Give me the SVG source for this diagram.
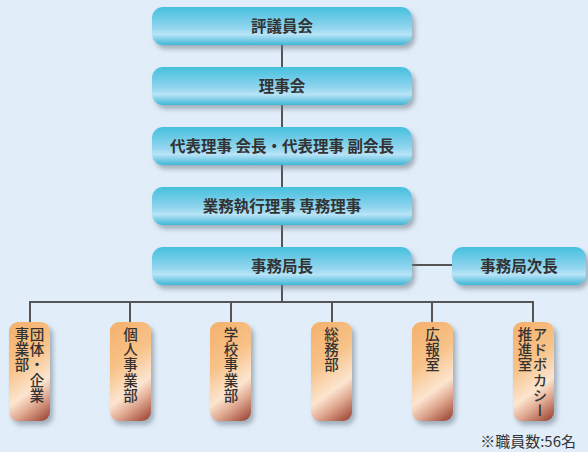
<svg xmlns="http://www.w3.org/2000/svg" width="588" height="452" viewBox="0 0 588 452">
<defs>
<linearGradient id="gBlue" x1="0" y1="0" x2="0" y2="1">
<stop offset="0" stop-color="#45C0DE"/>
<stop offset="0.55" stop-color="#92D5EF"/>
<stop offset="0.72" stop-color="#B8E4F7"/>
<stop offset="0.82" stop-color="#8FD3EC"/>
<stop offset="1" stop-color="#3DB8D6"/>
</linearGradient>
<linearGradient id="gOrange" x1="0" y1="0" x2="0.35" y2="1.15">
<stop offset="0" stop-color="#F5B06C"/>
<stop offset="0.4" stop-color="#F7C288"/>
<stop offset="0.68" stop-color="#FCE5D0"/>
<stop offset="0.82" stop-color="#E0A890"/>
<stop offset="1" stop-color="#A24E3C"/>
</linearGradient>
<filter id="sh" x="-20%" y="-20%" width="150%" height="150%">
<feDropShadow dx="3" dy="4" stdDeviation="2.5" flood-color="#6A7A88" flood-opacity="0.55"/>
</filter>
</defs>
<style>
.b{fill:url(#gBlue);filter:url(#sh)}
.o{fill:url(#gOrange);filter:url(#sh)}
.t{font-family:"Noto Sans CJK JP","Noto Sans",sans-serif;font-size:15.5px;font-weight:bold;fill:#333;text-anchor:middle}
.v{font-family:"Noto Sans CJK JP","Noto Sans",sans-serif;font-size:14.5px;font-weight:500;fill:#333;writing-mode:vertical-rl;letter-spacing:0.8px}
.ln{stroke:#555;stroke-width:2;fill:none}
</style>
<rect width="588" height="452" fill="#E1EEF9"/>
<g id="connectors">
<line class="ln" x1="282" y1="40" x2="282" y2="302"/>
<line class="ln" x1="400" y1="265" x2="460" y2="265"/>
<polyline class="ln" points="30,322 30,302 533,302 533,322"/>
<line class="ln" x1="130" y1="302" x2="130" y2="322"/>
<line class="ln" x1="231" y1="302" x2="231" y2="322"/>
<line class="ln" x1="332" y1="302" x2="332" y2="322"/>
<line class="ln" x1="432" y1="302" x2="432" y2="322"/>
</g>
<g id="n1"><rect class="b" x="152" y="7" width="260" height="38" rx="11"/><text class="t" x="282" y="31.5">評議員会</text></g>
<g id="n2"><rect class="b" x="152" y="67" width="260" height="38" rx="11"/><text class="t" x="282" y="91.5">理事会</text></g>
<g id="n3"><rect class="b" x="152" y="127" width="260" height="38" rx="11"/><text class="t" x="282" y="151.5">代表理事 会長・代表理事 副会長</text></g>
<g id="n4"><rect class="b" x="152" y="187" width="260" height="38" rx="11"/><text class="t" x="282" y="211.5">業務執行理事 専務理事</text></g>
<g id="n5"><rect class="b" x="152" y="247" width="260" height="38" rx="11"/><text class="t" x="282" y="271.5">事務局長</text></g>
<g id="n6"><rect class="b" x="452" y="247" width="134" height="38" rx="11"/><text class="t" x="519" y="271.5">事務局次長</text></g>
<g id="d1"><rect class="o" x="9" y="322" width="41" height="99" rx="9"/><text class="v" x="37" y="327">団体・企業</text><text class="v" x="22" y="327">事業部</text></g>
<g id="d2"><rect class="o" x="110" y="322" width="41" height="99" rx="9"/><text class="v" x="130.5" y="327">個人事業部</text></g>
<g id="d3"><rect class="o" x="210" y="322" width="41" height="99" rx="9"/><text class="v" x="231" y="327">学校事業部</text></g>
<g id="d4"><rect class="o" x="311" y="322" width="41" height="99" rx="9"/><text class="v" x="331.5" y="327">総務部</text></g>
<g id="d5"><rect class="o" x="412" y="322" width="41" height="99" rx="9"/><text class="v" x="432.5" y="327">広報室</text></g>
<g id="d6"><rect class="o" x="513" y="322" width="41" height="99" rx="9"/><text class="v" x="540" y="327">アドボカシー</text><text class="v" x="525" y="327">推進室</text></g>
<text x="576" y="447" style="font-family:'Noto Sans CJK JP','Noto Sans',sans-serif;font-size:15px;fill:#333;text-anchor:end">※職員数:56名</text>
</svg>
